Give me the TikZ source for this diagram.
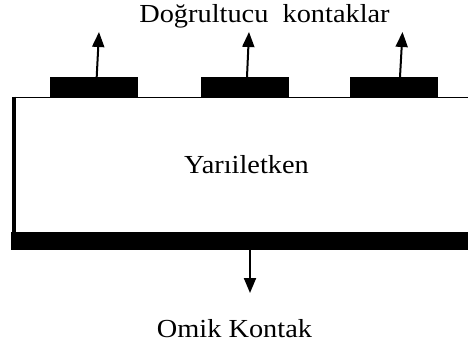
\documentclass[tikz,border=0pt]{standalone}
\usepackage{fontspec}
\setmainfont{Liberation Serif}[FakeStretch=1.09]
\usetikzlibrary{arrows.meta}
\begin{document}
\begin{tikzpicture}[x=1pt,y=-1pt,
  contact/.style={fill=black,inner sep=0pt,minimum width=88pt,minimum height=20pt},
  lbl/.style={font=\fontsize{26}{30}\selectfont,inner sep=0pt,anchor=base},
  wire/.style={line width=2pt,-{Triangle[length=15pt,width=12pt]}}]
\useasboundingbox (0,0) rectangle (468,351);
% semiconductor body (open on the right)
\draw[line width=1.6pt] (468,97.5) -- (13,97.5);
\draw[line width=4pt] (14,96.7) -- (14,233);
\node[fill=black,inner sep=0pt,minimum width=457pt,minimum height=18pt] (bar) at (239.5,241) {};
% rectifying contacts
\node[contact] (c1) at (94,87) {};
\node[contact] (c2) at (244.5,87) {};
\node[contact] (c3) at (394,87) {};
% labels
\node[lbl] (top) at (264.5,22) {Doğrultucu\ \ kontaklar};
\node[lbl] (body) at (246.5,173) {Yarıiletken};
\node[lbl] (ohm) at (234.5,337) {Omik Kontak};
% arrows
\coordinate (f1) at (96.7,77); \coordinate (t1) at (99,32);
\coordinate (f2) at (247,77); \coordinate (t2) at (249,32);
\coordinate (f3) at (400,77); \coordinate (t3) at (402.5,32);
\coordinate (f4) at (250,250); \coordinate (t4) at (250,293);
\draw[wire] (f1) -- (t1);
\draw[wire] (f2) -- (t2);
\draw[wire] (f3) -- (t3);
\draw[wire] (f4) -- (t4);
\end{tikzpicture}
\end{document}
